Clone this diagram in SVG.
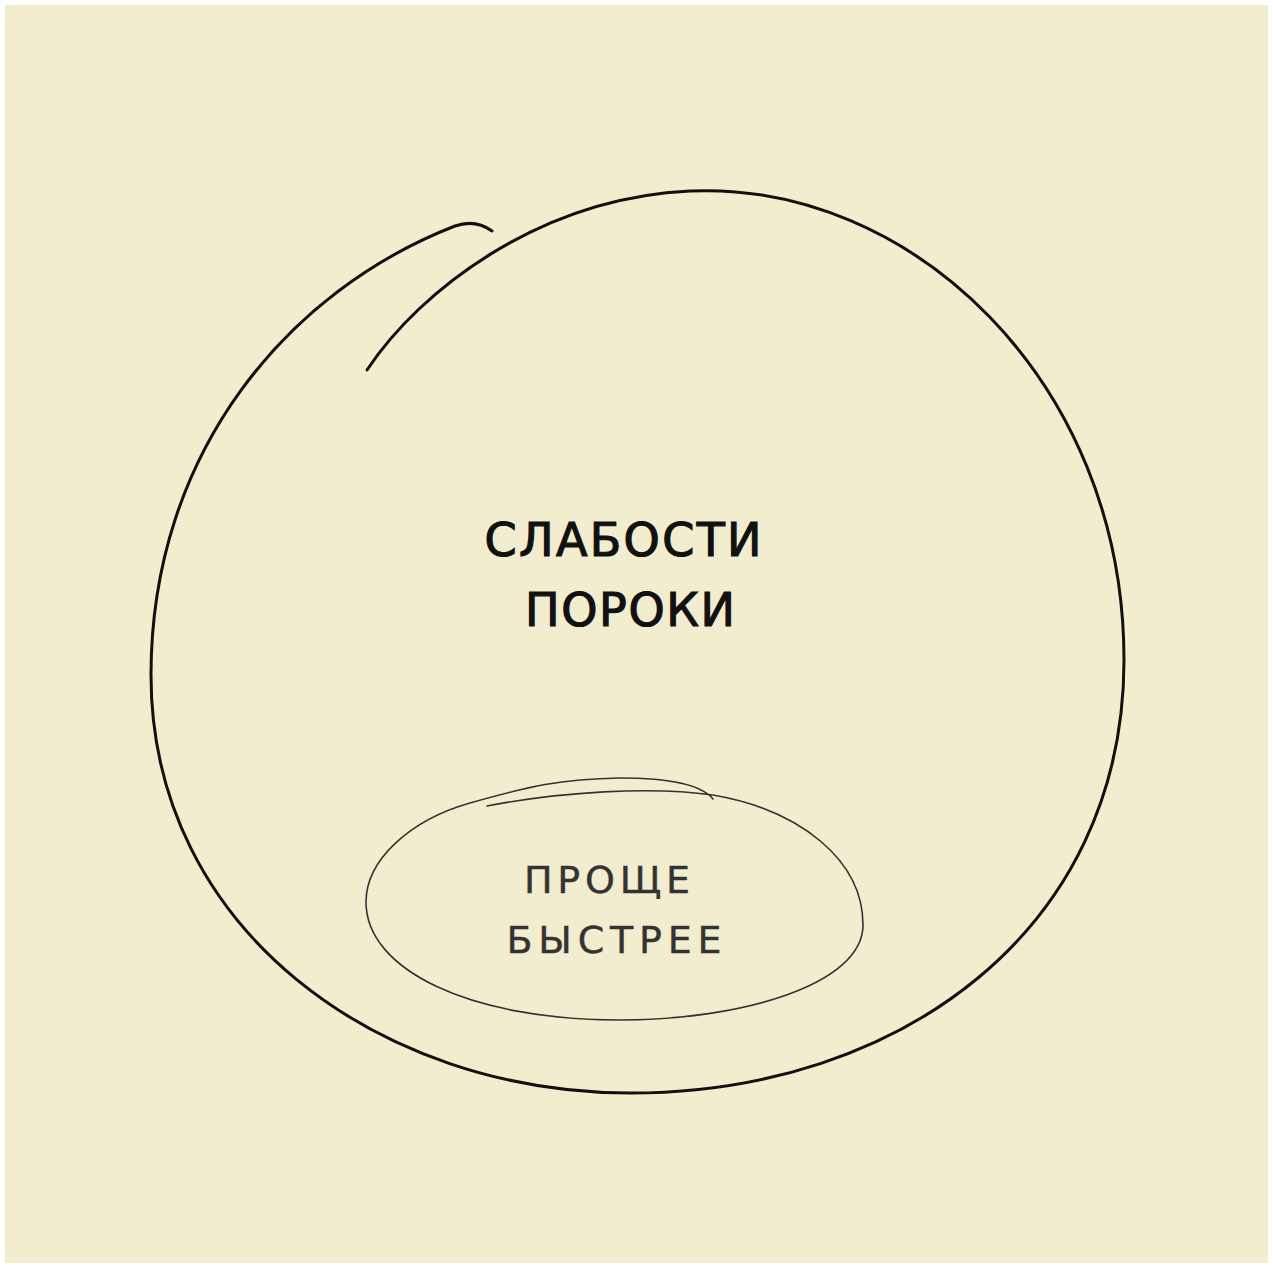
<svg xmlns="http://www.w3.org/2000/svg" width="1273" height="1268" viewBox="0 0 1273 1268">
<style>
.outer{fill:none;stroke:#111;stroke-width:3;stroke-linecap:round;stroke-linejoin:round}
.inner{fill:none;stroke:#333;stroke-width:1.6;stroke-linecap:round;stroke-linejoin:round}
.big{font-family:"DejaVu Sans","Liberation Sans",sans-serif;font-size:46px;fill:#111;stroke:#111;stroke-width:1.2;text-anchor:middle}
.small{font-family:"DejaVu Sans","Liberation Sans",sans-serif;font-size:38px;fill:#333;stroke:#333;stroke-width:0.4;text-anchor:middle}
</style>
<rect x="0" y="0" width="1273" height="1268" fill="#ffffff"/>
<rect x="5" y="5" width="1263" height="1258" fill="#F2EDCE"/>
<g id="outer-circle">
<path class="outer" d="M367,370 C420,290 540,198 690,191 C910,181 1124,380 1124,660 C1124,930 900,1093 630,1093 C380,1093 151,930 151,675 C151,450 290,290 455,226 C472,220 485,226 492,231"/>
<text class="big" x="623" y="556" textLength="277" lengthAdjust="spacing">СЛАБОСТИ</text>
<text class="big" x="630" y="626" textLength="210" lengthAdjust="spacing">ПОРОКИ</text>
</g>
<g id="inner-ellipse">
<path class="inner" d="M487,806 C560,792 650,786 713,795 C800,810 863,860 863,925 C863,985 740,1020 620,1020 C470,1020 366,970 366,902 C366,860 410,820 470,803 C530,786 560,779 620,778 C660,778 700,783 713,799"/>
<text class="small" x="607" y="893" textLength="166" lengthAdjust="spacing">ПРОЩЕ</text>
<text class="small" x="614" y="953" textLength="215" lengthAdjust="spacing">БЫСТРЕЕ</text>
</g>
<g id="connectors"/>
</svg>
